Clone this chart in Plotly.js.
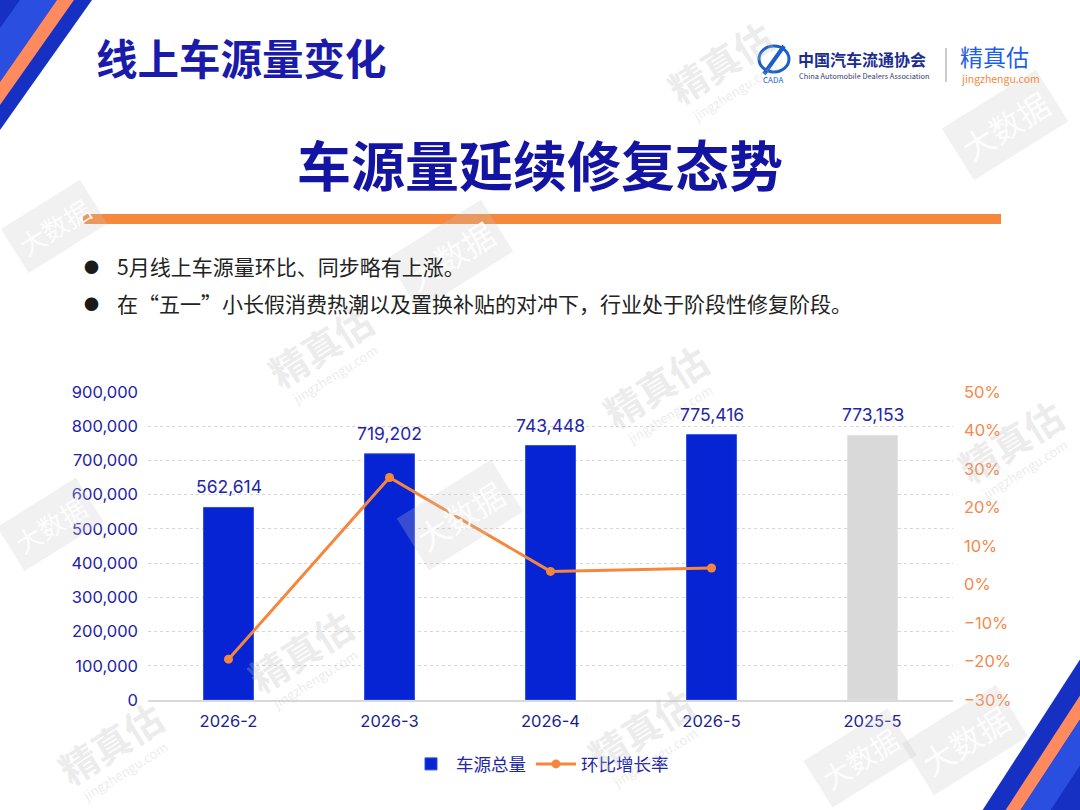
<!DOCTYPE html>
<html>
<head>
<meta charset="utf-8">
<script src="https://cdn.plot.ly/plotly-3.0.1.min.js"></script>
<style>
html,body{margin:0;padding:0;background:#fff;}
#chart{width:1080px;height:810px;}
</style>
</head>
<body>
<div id="chart"></div>
<script>
// ---- data ----
const categories = ['2026-2', '2026-3', '2026-4', '2026-5', '2025-5'];
const volumeValues = [562614, 719202, 743448, 775416, 773153];
const growthCategories = ['2026-2', '2026-3', '2026-4', '2026-5'];
const growthValues = [-19.4, 27.8, 3.4, 4.3];
const barColors = ['#0624d4', '#0624d4', '#0624d4', '#0624d4', '#d9d9d9'];
const barEdgeColors = ['#2b4fe6', '#2b4fe6', '#2b4fe6', '#2b4fe6', '#e2e2e2'];
const seriesNames = ['车源总量', '环比增长率'];
const headerTitle = '线上车源量变化';
const mainTitle = '车源量延续修复态势';
const bullets = ['5月线上车源量环比、同步略有上涨。', '在“五一”小长假消费热潮以及置换补贴的对冲下，行业处于阶段性修复阶段。'];

// ---- layout helpers (pixel -> paper) ----
const W = 1080, H = 810, L = 148, R = 953, T = 392, B = 700;
const fx = x => (x - L) / (R - L);
const fy = y => (B - y) / (B - T);
const poly = pts => 'M' + pts.map(p => fx(p[0]).toFixed(5) + ',' + fy(p[1]).toFixed(5)).join(' L') + ' Z';
const FONT = '"Noto Sans CJK SC", "Noto Sans", sans-serif';
const NUMFONT = 'Inter, "Noto Sans CJK SC", sans-serif';

const shapes = [];
const addPoly = (pts, color) => shapes.push({type: 'path', xref: 'paper', yref: 'paper', path: poly(pts), fillcolor: color, line: {width: 0}, layer: 'above'});

// top-left corner stripes
addPoly([[0, 0], [92, 0], [0, 130]], '#1630c4');
addPoly([[20, 0], [57, 0], [0, 82], [0, 28]], '#2a4ee0');
addPoly([[57, 0], [74, 0], [0, 105], [0, 82]], '#ff8a5e');
// bottom-right corner stripes
addPoly([[982, 811], [1081, 658], [1081, 811]], '#1630c4');
addPoly([[1005, 811], [1081, 694], [1081, 718], [1020, 811]], '#ff8a5e');
addPoly([[1020, 811], [1081, 718], [1081, 764], [1050, 811]], '#2a4ee0');
// orange separator bar
shapes.push({type: 'rect', xref: 'paper', yref: 'paper', x0: fx(83), x1: fx(1001), y0: fy(214), y1: fy(224), fillcolor: '#f5883c', line: {width: 0}});
// logo divider
shapes.push({type: 'line', xref: 'paper', yref: 'paper', x0: fx(946), x1: fx(946), y0: fy(48), y1: fy(82), line: {color: '#bbbbbb', width: 1.5}});
// CADA emblem (approximation)
shapes.push({type: 'circle', xref: 'paper', yref: 'paper', x0: fx(759), x1: fx(789), y0: fy(46), y1: fy(72), line: {color: '#1b5fc8', width: 3}});
shapes.push({type: 'line', xref: 'paper', yref: 'paper', x0: fx(764), x1: fx(784), y0: fy(74), y1: fy(46), line: {color: '#1b5fc8', width: 4}});

const ann = [];
const addText = (text, x, y, size, color, opts = {}) => ann.push(Object.assign({
  text: text, xref: 'paper', yref: 'paper', x: fx(x), y: fy(y), showarrow: false,
  xanchor: 'left', yanchor: 'middle', font: {family: FONT, size: size, color: color}
}, opts));

// watermarks (faint)
const wmGray = 'rgba(190,190,190,0.3)';
const marks = [[720, 62], [320, 345], [655, 385], [300, 650], [640, 728], [1010, 440], [110, 742]];
marks.forEach(m => {
  addText('<b>精真估</b>', m[0], m[1], 38, wmGray, {xanchor: 'center', textangle: -32});
  addText('jingzhengu.com', m[0] + 14, m[1] + 29, 13, wmGray, {xanchor: 'center', textangle: -32});
});
const boxes = [[54, 226, 26], [450, 255, 32], [460, 515, 32], [50, 524, 26], [965, 740, 32], [860, 758, 28], [1005, 125, 32]];
boxes.forEach(b => {
  addText('大数据', b[0], b[1], b[2], 'rgba(255,255,255,0.9)', {xanchor: 'center', textangle: -32, bgcolor: 'rgba(200,200,200,0.25)', borderpad: 7});
});

// header texts
addText('<b>' + headerTitle + '</b>', 94, 57, 41.5, '#1b1bab');
addText('<b>' + mainTitle + '</b>', 540, 163, 54, '#1414a3', {xanchor: 'center'});
bullets.forEach((t, i) => {
  const y = 266 + i * 37;
  addText('●', 82, y, 15, '#1a1a1a');
  addText(t, 115, y, 21, '#222222');
});
// logo texts
addText('CADA', 773, 80, 8, '#1b5fc8', {xanchor: 'center'});
addText('<b>中国汽车流通协会</b>', 796, 59, 16, '#1b2d8f');
addText('China Automobile Dealers Association', 797, 75, 7.4, '#333a70');
addText('精真估', 958, 56, 23, '#1f5ee8');
addText('jingzhengu.com', 959, 79, 10.5, '#f5883c');

// value labels above bars, placed by the data axes
categories.forEach((c, i) => ann.push({
  xref: 'x', yref: 'y', x: c, y: volumeValues[i], text: volumeValues[i].toLocaleString('en-US'),
  showarrow: false, yanchor: 'bottom', yshift: 8,
  font: {family: NUMFONT, size: 17.5, color: '#1f27a8'}
}));

const traces = [
  {
    type: 'bar', name: seriesNames[0], x: categories, y: volumeValues,
    marker: {color: barColors, line: {color: barEdgeColors, width: 1}},
    width: 0.31, hoverinfo: 'skip'
  },
  {
    type: 'scatter', mode: 'lines+markers', name: seriesNames[1],
    x: growthCategories, y: growthValues, yaxis: 'y2',
    line: {color: '#f5873d', width: 3},
    marker: {color: '#f5873d', size: 9},
    cliponaxis: false, hoverinfo: 'skip'
  }
];

const layout = {
  width: W, height: H,
  margin: {l: L, r: W - R, t: T, b: H - B, pad: 0},
  paper_bgcolor: '#ffffff', plot_bgcolor: '#ffffff',
  font: {family: FONT},
  showlegend: true,
  legend: {
    orientation: 'h', x: fx(540), y: fy(764), xanchor: 'center', yanchor: 'middle',
    font: {family: FONT, size: 17.5, color: '#1f27a8'}, itemwidth: 40, traceorder: 'normal'
  },
  xaxis: {
    type: 'category', showgrid: false, showline: true, linecolor: '#d9d9d9', linewidth: 1.5,
    ticks: '', tickfont: {family: NUMFONT, size: 16.5, color: '#1a2290'},
    ticklabelstandoff: 6, automargin: false, fixedrange: true
  },
  yaxis: {
    range: [0, 900000], dtick: 100000, tickformat: ',d',
    showgrid: true, gridcolor: '#d6d6d6', griddash: 'dot', gridwidth: 1,
    zeroline: false, showline: false, ticks: '',
    tickfont: {family: NUMFONT, size: 16.5, color: '#1d22a8'},
    ticklabelstandoff: 9, automargin: false, fixedrange: true
  },
  yaxis2: {
    overlaying: 'y', side: 'right', range: [-30, 50], dtick: 10, ticksuffix: '%',
    showgrid: false, zeroline: false, showline: false, ticks: '',
    tickfont: {family: NUMFONT, size: 16.5, color: '#f5884a'},
    ticklabelstandoff: 10, automargin: false, fixedrange: true
  },
  shapes: shapes,
  annotations: ann
};

Plotly.newPlot('chart', traces, layout, {displayModeBar: false, staticPlot: true});
</script>
</body>
</html>
